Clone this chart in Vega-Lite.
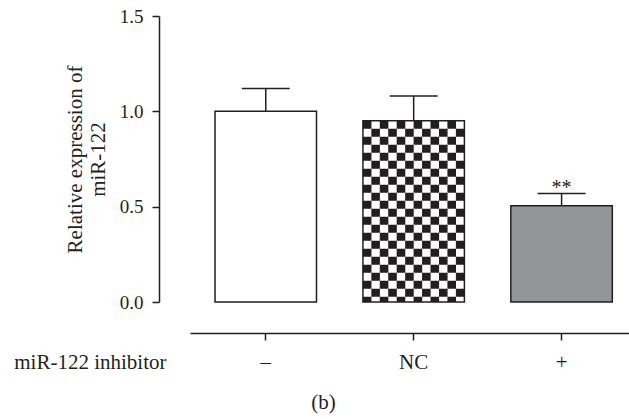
{
  "$schema": "https://vega.github.io/schema/vega-lite/v6.json",
  "width": 439,
  "height": 286,
  "autosize": {"type": "none"},
  "padding": {"left": 190, "top": 16, "right": 0, "bottom": 117},
  "background": "white",
  "config": {"view": {"stroke": null}, "font": "Liberation Serif"},
  "datasets": {
    "bars": [
      {"group": "–", "mean": 1.0, "upper": 1.12, "sig": ""},
      {"group": "NC", "mean": 0.95, "upper": 1.081, "sig": ""},
      {"group": "+", "mean": 0.505, "upper": 0.569, "sig": "**"}
    ],
    "checker": [
      {"group": "NC", "c": 1}, {"group": "NC", "c": 2}, {"group": "NC", "c": 3},
      {"group": "NC", "c": 4}, {"group": "NC", "c": 5}, {"group": "NC", "c": 6},
      {"group": "NC", "c": 7}, {"group": "NC", "c": 8}, {"group": "NC", "c": 9},
      {"group": "NC", "c": 10}, {"group": "NC", "c": 11}, {"group": "NC", "c": 12}
    ]
  },
  "title": {
    "text": "(b)",
    "orient": "bottom",
    "anchor": "middle",
    "frame": "group",
    "dx": -86,
    "offset": 20,
    "fontSize": 21,
    "font": "Liberation Serif",
    "fontWeight": "normal",
    "color": "#231f20"
  },
  "layer": [
    {
      "data": {"name": "bars"},
      "mark": {"type": "bar", "strokeWidth": 0},
      "encoding": {
        "x": {
          "field": "group",
          "type": "nominal",
          "sort": ["–", "NC", "+"],
          "scale": {"domain": ["–", "NC", "+"], "paddingInner": 0.314, "paddingOuter": 0.141, "align": 0.6},
          "axis": {
            "title": "miR-122 inhibitor",
            "offset": 31,
            "tickSize": 7,
            "labelAngle": 0,
            "labelPadding": 11,
            "labelFont": "Liberation Serif",
            "labelFontSize": 21,
            "labelColor": "#231f20",
            "domainColor": "#231f20",
            "tickColor": "#231f20",
            "domainWidth": 1.5,
            "tickWidth": 1.5,
            "titleFont": "Liberation Serif",
            "titleFontSize": 21,
            "titleFontWeight": "normal",
            "titleColor": "#231f20",
            "titleAlign": "right",
            "titleBaseline": "alphabetic",
            "titleX": -24,
            "titleY": 35
          }
        },
        "y": {
          "field": "mean",
          "type": "quantitative",
          "scale": {"domain": [0, 1.5], "nice": false},
          "axis": {
            "title": ["Relative expression of", "miR-122"],
            "values": [0, 0.5, 1, 1.5],
            "format": ".1f",
            "grid": false,
            "offset": 31,
            "tickSize": 7,
            "labelPadding": 9,
            "labelFont": "Liberation Serif",
            "labelFontSize": 19,
            "labelColor": "#231f20",
            "domainColor": "#231f20",
            "tickColor": "#231f20",
            "domainWidth": 1.5,
            "tickWidth": 1.5,
            "titleFont": "Liberation Serif",
            "titleFontSize": 21,
            "titleFontWeight": "normal",
            "titleColor": "#231f20",
            "titleAngle": -90,
            "titleAlign": "center",
            "titleBaseline": "middle",
            "titleLineHeight": 23,
            "titleX": -84,
            "titleY": 143
          }
        },
        "fill": {
          "field": "group",
          "type": "nominal",
          "scale": {"domain": ["–", "NC", "+"], "range": ["#ffffff", "#ffffff", "#939598"]},
          "legend": null
        }
      }
    },
    {
      "data": {"name": "checker"},
      "transform": [
        {"lookup": "group", "from": {"data": {"name": "bars"}, "key": "group", "fields": ["mean"]}}
      ],
      "mark": {"type": "rule", "color": "#231f20", "strokeWidth": 8.6, "strokeCap": "butt"},
      "encoding": {
        "x": {"field": "group", "type": "nominal"},
        "xOffset": {"field": "c", "type": "ordinal", "scale": {"paddingInner": 0, "paddingOuter": 0}},
        "y": {"field": "mean", "type": "quantitative"},
        "y2": {"datum": 0},
        "strokeDash": {
          "field": "c",
          "type": "ordinal",
          "scale": {
            "domain": [1, 2, 3, 4, 5, 6, 7, 8, 9, 10, 11, 12],
            "range": [[8, 8], [0, 8, 8, 0], [8, 8], [0, 8, 8, 0], [8, 8], [0, 8, 8, 0], [8, 8], [0, 8, 8, 0], [8, 8], [0, 8, 8, 0], [8, 8], [0, 8, 8, 0]]
          },
          "legend": null
        }
      }
    },
    {
      "data": {"name": "bars"},
      "mark": {"type": "bar", "fillOpacity": 0, "stroke": "#231f20", "strokeWidth": 1.5},
      "encoding": {
        "x": {"field": "group", "type": "nominal"},
        "y": {"field": "mean", "type": "quantitative"}
      }
    },
    {
      "data": {"name": "bars"},
      "mark": {"type": "rule", "color": "#231f20", "strokeWidth": 1.5},
      "encoding": {
        "x": {"field": "group", "type": "nominal"},
        "y": {"field": "mean", "type": "quantitative"},
        "y2": {"field": "upper"}
      }
    },
    {
      "data": {"name": "bars"},
      "mark": {"type": "tick", "color": "#231f20", "size": 48, "thickness": 1.5, "opacity": 1},
      "encoding": {
        "x": {"field": "group", "type": "nominal"},
        "y": {"field": "upper", "type": "quantitative"}
      }
    },
    {
      "data": {"name": "bars"},
      "mark": {"type": "text", "color": "#231f20", "fontSize": 20, "font": "Liberation Serif", "baseline": "alphabetic", "dy": 0},
      "encoding": {
        "x": {"field": "group", "type": "nominal"},
        "y": {"field": "upper", "type": "quantitative"},
        "text": {"field": "sig"}
      }
    }
  ]
}
